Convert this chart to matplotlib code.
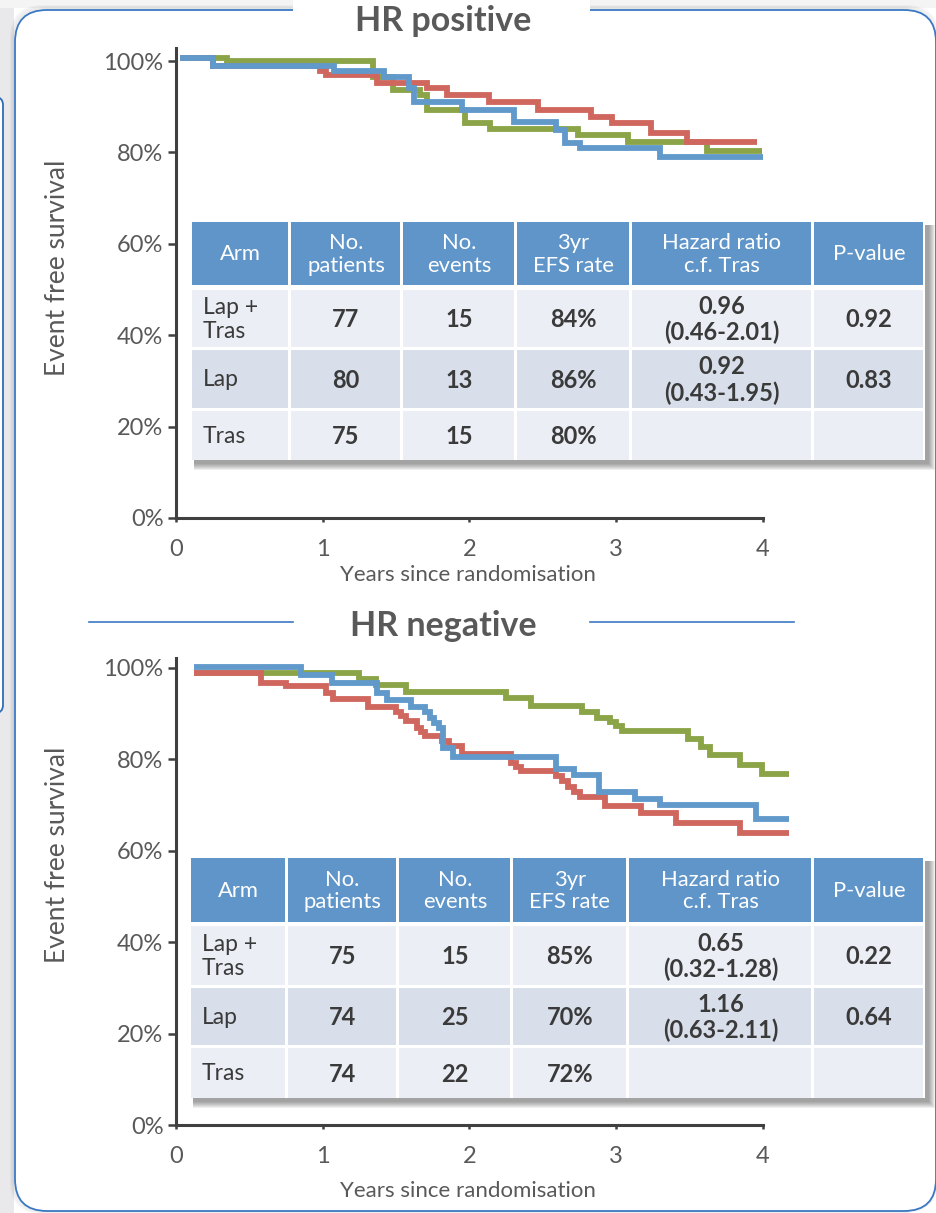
import matplotlib
matplotlib.use("Agg")
import matplotlib.pyplot as plt
from matplotlib.patches import Rectangle, FancyBboxPatch

plt.rcParams['font.family'] = ['Lato', 'DejaVu Sans']

# ---------------- data ----------------
# Kaplan-Meier style event-free survival (years, % event free), step-post
hrpos_tras_t = [0.03, 0.25, 1.08, 1.42, 1.59, 1.62, 1.95, 2.30, 2.59, 2.65, 2.75, 3.30, 4.00]
hrpos_tras_s = [100.6, 98.8, 97.9, 96.6, 94.0, 91.1, 89.3, 86.7, 85.0, 82.0, 80.9, 79.1, 79.1]
hrpos_lap_t = [0.03, 0.25, 0.98, 1.02, 1.37, 1.71, 1.85, 2.13, 2.47, 2.83, 2.97, 3.24, 3.48, 3.96]
hrpos_lap_s = [100.6, 98.8, 97.9, 96.9, 95.1, 94.0, 92.6, 91.1, 89.3, 87.8, 86.4, 84.2, 82.3, 82.3]
hrpos_laptras_t = [0.03, 0.35, 1.34, 1.48, 1.66, 1.71, 1.97, 2.14, 2.74, 3.08, 3.62, 3.99]
hrpos_laptras_s = [100.6, 99.9, 96.6, 93.7, 92.6, 89.3, 86.4, 85.1, 83.8, 82.3, 80.2, 80.2]

hrneg_tras_t = [0.12, 0.85, 1.06, 1.37, 1.44, 1.60, 1.70, 1.73, 1.76, 1.79, 1.82, 1.89,
                2.59, 2.71, 2.88, 3.13, 3.30, 3.95, 4.18]
hrneg_tras_s = [100.2, 98.5, 96.7, 94.5, 93.0, 91.4, 90.3, 89.1, 87.9, 86.8, 82.4, 80.6,
                77.8, 76.6, 72.9, 71.3, 70.0, 66.9, 66.9]
hrneg_lap_t = [0.12, 0.58, 0.75, 1.02, 1.07, 1.31, 1.50, 1.535, 1.57, 1.64, 1.67, 1.70,
               1.81, 1.86, 1.95, 2.28, 2.315, 2.35, 2.59, 2.63, 2.67, 2.71, 2.75,
               2.92, 3.17, 3.41, 3.84, 4.18]
hrneg_lap_s = [99.0, 96.7, 96.1, 94.5, 93.2, 91.4, 90.4, 89.5, 88.5, 86.8, 86.0, 85.1,
               84.0, 82.9, 81.2, 79.3, 78.4, 77.5, 76.4, 75.2, 74.0, 72.9, 71.8,
               69.8, 68.3, 66.1, 64.0, 64.0]
hrneg_laptras_t = [0.12, 1.25, 1.36, 1.57, 2.25, 2.42, 2.77, 2.87, 2.96, 3.00, 3.04,
                   3.49, 3.58, 3.64, 3.84, 3.99, 4.18]
hrneg_laptras_s = [99.0, 97.5, 96.3, 94.7, 93.4, 91.7, 90.4, 89.0, 88.1, 87.2, 86.3,
                   84.4, 82.8, 81.0, 78.8, 76.7, 76.7]

year_ticks = [0, 1, 2, 3, 4]
pct_ticks = [0, 20, 40, 60, 80, 100]

# summary tables
table_header = ["Arm", "No.\npatients", "No.\nevents", "3yr\nEFS rate",
                "Hazard ratio\nc.f. Tras", "P-value"]
arms = ["Lap +\nTras", "Lap", "Tras"]
hrpos_patients = [77, 80, 75]
hrpos_events = [15, 13, 15]
hrpos_efs = [84, 86, 80]
hrpos_hr = ["0.96\n(0.46-2.01)", "0.92\n(0.43-1.95)", ""]
hrpos_p = ["0.92", "0.83", ""]
hrneg_patients = [75, 74, 74]
hrneg_events = [15, 25, 22]
hrneg_efs = [85, 70, 72]
hrneg_hr = ["0.65\n(0.32-1.28)", "1.16\n(0.63-2.11)", ""]
hrneg_p = ["0.22", "0.64", ""]

# ---------------- style ----------------
W, H = 937, 1213
C_LAPTRAS = '#8BA448'
C_LAP = '#D0675F'
C_TRAS = '#6199CB'
C_TEXT = '#595959'
C_AXIS = '#404040'
C_FRAME = '#3A78C4'
C_HEAD = '#5F95C9'
C_ROW_LIGHT = '#EBEEF5'
C_ROW_DARK = '#D8DEEA'
PX_YEAR = 146.75
PX_PCT = 4.57
X0 = 176

fig = plt.figure(figsize=(W / 100, H / 100), dpi=100)
fig.patch.set_facecolor('white')

# background layer in pixel units: frame, margins
bg = fig.add_axes([0, 0, 1, 1], zorder=0)
bg.set_xlim(0, W)
bg.set_ylim(H, 0)
bg.axis('off')
bg.add_patch(Rectangle((0, 0), 14, H, facecolor='#E9E9EB', edgecolor='none'))
bg.add_patch(Rectangle((0, 0), W, 8, facecolor='#F4F4F4', edgecolor='none'))
bg.add_patch(FancyBboxPatch((-40, 97), 43, 616, boxstyle="round,pad=0,rounding_size=8",
                            facecolor='white', edgecolor='#2F6DB5', lw=1.3))
for k, a in enumerate([0.06, 0.05, 0.04, 0.03]):
    bg.add_patch(FancyBboxPatch((15 - 1 - k, 10 - 1 - k), 921 + 2 * k, 1201 + 2 * k,
                                boxstyle="round,pad=0,rounding_size=32",
                                facecolor='none', edgecolor='black', lw=1.4, alpha=a))
bg.add_patch(FancyBboxPatch((15, 10), 921, 1201, boxstyle="round,pad=0,rounding_size=32",
                            facecolor='white', edgecolor=C_FRAME, lw=1.3))


def add_km_axes(y_zero_px, ytop):
    left = X0 / W
    width = 4.3 * PX_YEAR / W
    bottom = 1 - y_zero_px / H
    height = ytop * PX_PCT / H
    ax = fig.add_axes([left, bottom, width, height], zorder=2)
    ax.set_xlim(0, 4.3)
    ax.set_ylim(0, ytop)
    ax.patch.set_alpha(0)
    for s in ['top', 'right']:
        ax.spines[s].set_visible(False)
    for s in ['left', 'bottom']:
        ax.spines[s].set_color(C_AXIS)
        ax.spines[s].set_linewidth(2.2)
    ax.spines['bottom'].set_bounds(0, 4)
    ax.set_xticks(year_ticks)
    ax.set_xticklabels([str(v) for v in year_ticks])
    ax.set_yticks(pct_ticks)
    ax.set_yticklabels([f"{v}%" for v in pct_ticks])
    ax.tick_params(axis='y', direction='out', length=6, width=1.8, color=C_AXIS,
                   labelcolor=C_TEXT, labelsize=17, pad=3)
    ax.tick_params(axis='x', direction='out', length=3, width=1.8, color=C_AXIS,
                   labelcolor=C_TEXT, labelsize=17, pad=12)
    return ax


def draw_curves(ax, series):
    for t, s, c in series:
        ax.plot(t, s, drawstyle='steps-post', color=c, lw=4.2,
                solid_joinstyle='miter', solid_capstyle='butt', clip_on=False)


ax1 = add_km_axes(518, 102.8)
draw_curves(ax1, [(hrpos_laptras_t, hrpos_laptras_s, C_LAPTRAS),
                  (hrpos_lap_t, hrpos_lap_s, C_LAP),
                  (hrpos_tras_t, hrpos_tras_s, C_TRAS)])
ax2 = add_km_axes(1125, 102.2)
draw_curves(ax2, [(hrneg_laptras_t, hrneg_laptras_s, C_LAPTRAS),
                  (hrneg_lap_t, hrneg_lap_s, C_LAP),
                  (hrneg_tras_t, hrneg_tras_s, C_TRAS)])

# overlay in pixel units for titles and tables
ov = fig.add_axes([0, 0, 1, 1], zorder=5)
ov.set_xlim(0, W)
ov.set_ylim(H, 0)
ov.axis('off')

# title gap in the frame
ov.add_patch(Rectangle((293, 0), 297, 30, facecolor='white', edgecolor='none', zorder=2))
ov.text(443, 21, "HR positive", ha='center', va='center', fontsize=24.5,
        fontweight='bold', color=C_TEXT, zorder=3)

ov.plot([89, 293], [622, 622], color=C_FRAME, lw=1.2, zorder=2)
ov.plot([590, 794], [622, 622], color=C_FRAME, lw=1.2, zorder=2)
ov.text(443, 626, "HR negative", ha='center', va='center', fontsize=24.5,
        fontweight='bold', color=C_TEXT, zorder=3)

# axis titles
for yc in (268, 855):
    ov.text(58, yc, "Event free survival", rotation=90, ha='center', va='center',
            fontsize=19, color=C_TEXT, zorder=3)
for yc in (575, 1191):
    ov.text(468, yc, "Years since randomisation", ha='center', va='center',
            fontsize=16, color=C_TEXT, zorder=3)


def draw_table(cols, rows, patients, events, efs, hr, pv):
    x0, x1 = cols[0], cols[-1]
    y0, y1 = rows[0][0], rows[-1][1]
    # drop shadow
    for d in range(1, 8):
        ov.add_patch(Rectangle((x0 + 3, y0 + 3), x1 - x0 + d, y1 - y0 + d,
                               facecolor='#303030', edgecolor='none', alpha=0.08, zorder=6))
    ov.add_patch(Rectangle((x0, y0), x1 - x0, y1 - y0, facecolor='white',
                           edgecolor='none', zorder=7))
    body = [[arms[i], str(patients[i]), str(events[i]), f"{efs[i]}%", hr[i], pv[i]]
            for i in range(3)]
    for r, (ra, rb) in enumerate(rows):
        if r == 0:
            fc = C_HEAD
        else:
            fc = C_ROW_DARK if r == 2 else C_ROW_LIGHT
        for c in range(6):
            ca, cb = cols[c], cols[c + 1]
            ov.add_patch(Rectangle((ca + 1.5, ra), cb - ca - 3, rb - ra,
                                   facecolor=fc, edgecolor='none', zorder=8))
            ym = (ra + rb) / 2
            if r == 0:
                ov.text((ca + cb) / 2, ym + 1, table_header[c], ha='center', va='center',
                        fontsize=15.8, color='white', linespacing=1.18, zorder=9)
            else:
                txt = body[r - 1][c]
                if c == 0:
                    ov.text(ca + 12, ym + 1, txt, ha='left', va='center', fontsize=16.5,
                            color='#3A3A3A', linespacing=1.2, zorder=9)
                else:
                    ov.text((ca + cb) / 2, ym + 1, txt, ha='center', va='center',
                            fontsize=17, fontweight='bold', color='#3A3A3A',
                            linespacing=1.15, zorder=9)


draw_table([191, 290, 402, 516, 631, 813, 925],
           [(222, 285), (290, 347), (350, 408), (411, 460)],
           hrpos_patients, hrpos_events, hrpos_efs, hrpos_hr, hrpos_p)
draw_table([190, 287, 398, 512, 628, 813, 925],
           [(858, 922), (926, 985), (988, 1045), (1048, 1098)],
           hrneg_patients, hrneg_events, hrneg_efs, hrneg_hr, hrneg_p)

fig.savefig("out.png", dpi=100, facecolor='white')
